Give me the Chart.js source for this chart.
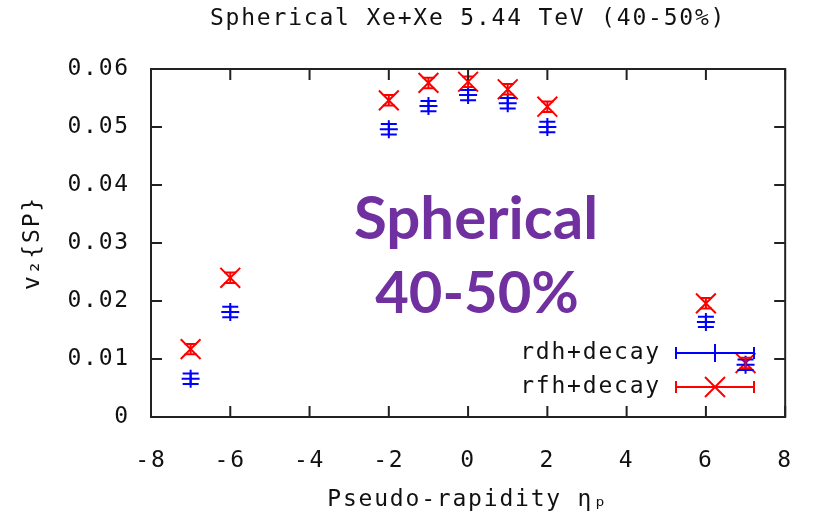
<!DOCTYPE html>
<html>
<head>
<meta charset="utf-8">
<script src="https://cdn.jsdelivr.net/npm/chart.js@4/dist/chart.umd.min.js"></script>
<style>
  html, body { margin: 0; padding: 0; background: #fff; }
</style>
</head>
<body>
<canvas id="v2chart" width="815" height="519"></canvas>
<script>
// values
const eta = [-7, -6, -2, -1, 0, 1, 2, 6, 7];
const rdhV2 = [0.0066, 0.0181, 0.0496, 0.0536, 0.0555, 0.0541, 0.0500, 0.0164, 0.0090];
const rdhErr = [0.0009, 0.0009, 0.0009, 0.0009, 0.0009, 0.0009, 0.0009, 0.0009, 0.0009];
const rfhV2 = [0.0117, 0.0240, 0.0546, 0.0576, 0.0578, 0.0565, 0.0535, 0.0196, 0.0093];
const rfhErr = [0.0009, 0.0009, 0.0009, 0.0009, 0.0009, 0.0009, 0.0009, 0.0009, 0.0009];
const xTicks = [-8, -6, -4, -2, 0, 2, 4, 6, 8];
const yTicks = [0, 0.01, 0.02, 0.03, 0.04, 0.05, 0.06];

const MONO = '"DejaVu Sans Mono", monospace';
const SPACING = '1.8px';

const ctx = document.getElementById("v2chart").getContext("2d");

// gnuplot-ish frame, mirrored inward ticks, error bars, key, title and the overlay label
const gnuplotBits = {
    id: 'gnuplotBits',
    beforeLayout(chart) { chart.ctx.letterSpacing = SPACING; },
    beforeDraw(chart) { chart.ctx.letterSpacing = SPACING; },
    afterDatasetsDraw(chart) {
        const c = chart.ctx;
        const xs = chart.scales.x, ys = chart.scales.y;
        c.save();
        chart.data.datasets.forEach((ds) => {
            c.strokeStyle = ds.borderColor;
            c.lineWidth = ds.borderWidth;
            ds.data.forEach((p, i) => {
                const px = xs.getPixelForValue(p.x);
                const lo = ys.getPixelForValue(p.y - ds.errors[i]);
                const hi = ys.getPixelForValue(p.y + ds.errors[i]);
                c.beginPath();
                c.moveTo(px, lo); c.lineTo(px, hi);
                c.moveTo(px - ds.capWidth, lo); c.lineTo(px + ds.capWidth, lo);
                c.moveTo(px - ds.capWidth, hi); c.lineTo(px + ds.capWidth, hi);
                c.stroke();
            });
        });
        c.restore();
    },
    afterDraw(chart) {
        const c = chart.ctx;
        const a = chart.chartArea;
        const xs = chart.scales.x, ys = chart.scales.y;
        const tick = 11;
        c.save();
        c.strokeStyle = '#222';
        c.lineWidth = 2;
        c.strokeRect(a.left, a.top, a.right - a.left, a.bottom - a.top);
        c.beginPath();
        xTicks.forEach((v) => {
            const px = xs.getPixelForValue(v);
            c.moveTo(px, a.bottom); c.lineTo(px, a.bottom - tick);
            c.moveTo(px, a.top); c.lineTo(px, a.top + tick);
        });
        yTicks.forEach((v) => {
            const py = ys.getPixelForValue(v);
            c.moveTo(a.left, py); c.lineTo(a.left + tick, py);
            c.moveTo(a.right, py); c.lineTo(a.right - tick, py);
        });
        c.stroke();

        // title
        c.fillStyle = '#111';
        c.font = '23px ' + MONO;
        c.letterSpacing = SPACING;
        c.textAlign = 'center';
        c.textBaseline = 'middle';
        c.fillText('Spherical Xe+Xe 5.44 TeV (40-50%)', (a.left + a.right) / 2, 19);

        // key
        const keyX1 = 676, keyX2 = 754, keyMid = 715;
        const rows = [{y: 353}, {y: 387}];
        chart.data.datasets.forEach((ds, i) => {
            const y = rows[i].y;
            c.fillStyle = '#111';
            c.textAlign = 'right';
            c.fillText(ds.label, 661, y);
            c.strokeStyle = ds.borderColor;
            c.lineWidth = ds.borderWidth;
            c.beginPath();
            c.moveTo(keyX1, y); c.lineTo(keyX2, y);
            c.moveTo(keyX1, y - 6); c.lineTo(keyX1, y + 6);
            c.moveTo(keyX2, y - 6); c.lineTo(keyX2, y + 6);
            if (ds.pointStyle === 'cross') {
                c.moveTo(keyMid, y - 9); c.lineTo(keyMid, y + 9);
            } else {
                c.moveTo(keyMid - 10, y - 10); c.lineTo(keyMid + 10, y + 10);
                c.moveTo(keyMid - 10, y + 10); c.lineTo(keyMid + 10, y - 10);
            }
            c.stroke();
        });

        // big purple label
        c.letterSpacing = '0px';
        c.fillStyle = '#7030A0';
        c.font = 'bold 60px Lato, "Open Sans", sans-serif';
        c.textAlign = 'center';
        c.textBaseline = 'alphabetic';
        c.fillText('Spherical', 476, 239);
        c.font = 'bold 58px Lato, "Open Sans", sans-serif';
        c.fillText('40-50%', 477, 313);
        c.restore();
    }
};

new Chart(ctx, {
    type: 'scatter',
    data: {
        datasets: [{
            label: 'rdh+decay',
            data: eta.map((x, i) => ({x: x, y: rdhV2[i]})),
            errors: rdhErr,
            capWidth: 8,
            pointStyle: 'cross',
            pointRadius: 9,
            borderColor: '#0000ff',
            backgroundColor: '#0000ff',
            borderWidth: 2
        }, {
            label: 'rfh+decay',
            data: eta.map((x, i) => ({x: x, y: rfhV2[i]})),
            errors: rfhErr,
            capWidth: 6,
            pointStyle: 'crossRot',
            pointRadius: 14,
            borderColor: '#ff0000',
            backgroundColor: '#ff0000',
            borderWidth: 2
        }]
    },
    options: {
        responsive: false,
        animation: false,
        layout: {padding: {left: 0, right: 29, top: 69, bottom: 0}},
        plugins: {legend: {display: false}, title: {display: false}, tooltip: {enabled: false}},
        scales: {
            x: {
                type: 'linear',
                min: -8, max: 8,
                afterBuildTicks: (s) => { s.ticks = xTicks.map((v) => ({value: v})); },
                afterFit: (s) => { s.height = 102; },
                grid: {display: false},
                border: {display: false},
                ticks: {color: '#111', padding: 22, font: {family: MONO, size: 23}},
                title: {display: true, text: 'Pseudo-rapidity ηₚ', color: '#111', padding: {top: 0, bottom: 5}, font: {family: MONO, size: 23}}
            },
            y: {
                type: 'linear',
                min: 0, max: 0.06,
                afterBuildTicks: (s) => { s.ticks = yTicks.map((v) => ({value: v})); },
                afterFit: (s) => { s.width = 151; },
                grid: {display: false},
                border: {display: false},
                ticks: {color: '#111', padding: 13, font: {family: MONO, size: 23}},
                title: {display: true, text: 'v₂{SP}', color: '#111', padding: {top: 19, bottom: 0}, font: {family: MONO, size: 23}}
            }
        }
    },
    plugins: [gnuplotBits]
});
</script>
</body>
</html>
